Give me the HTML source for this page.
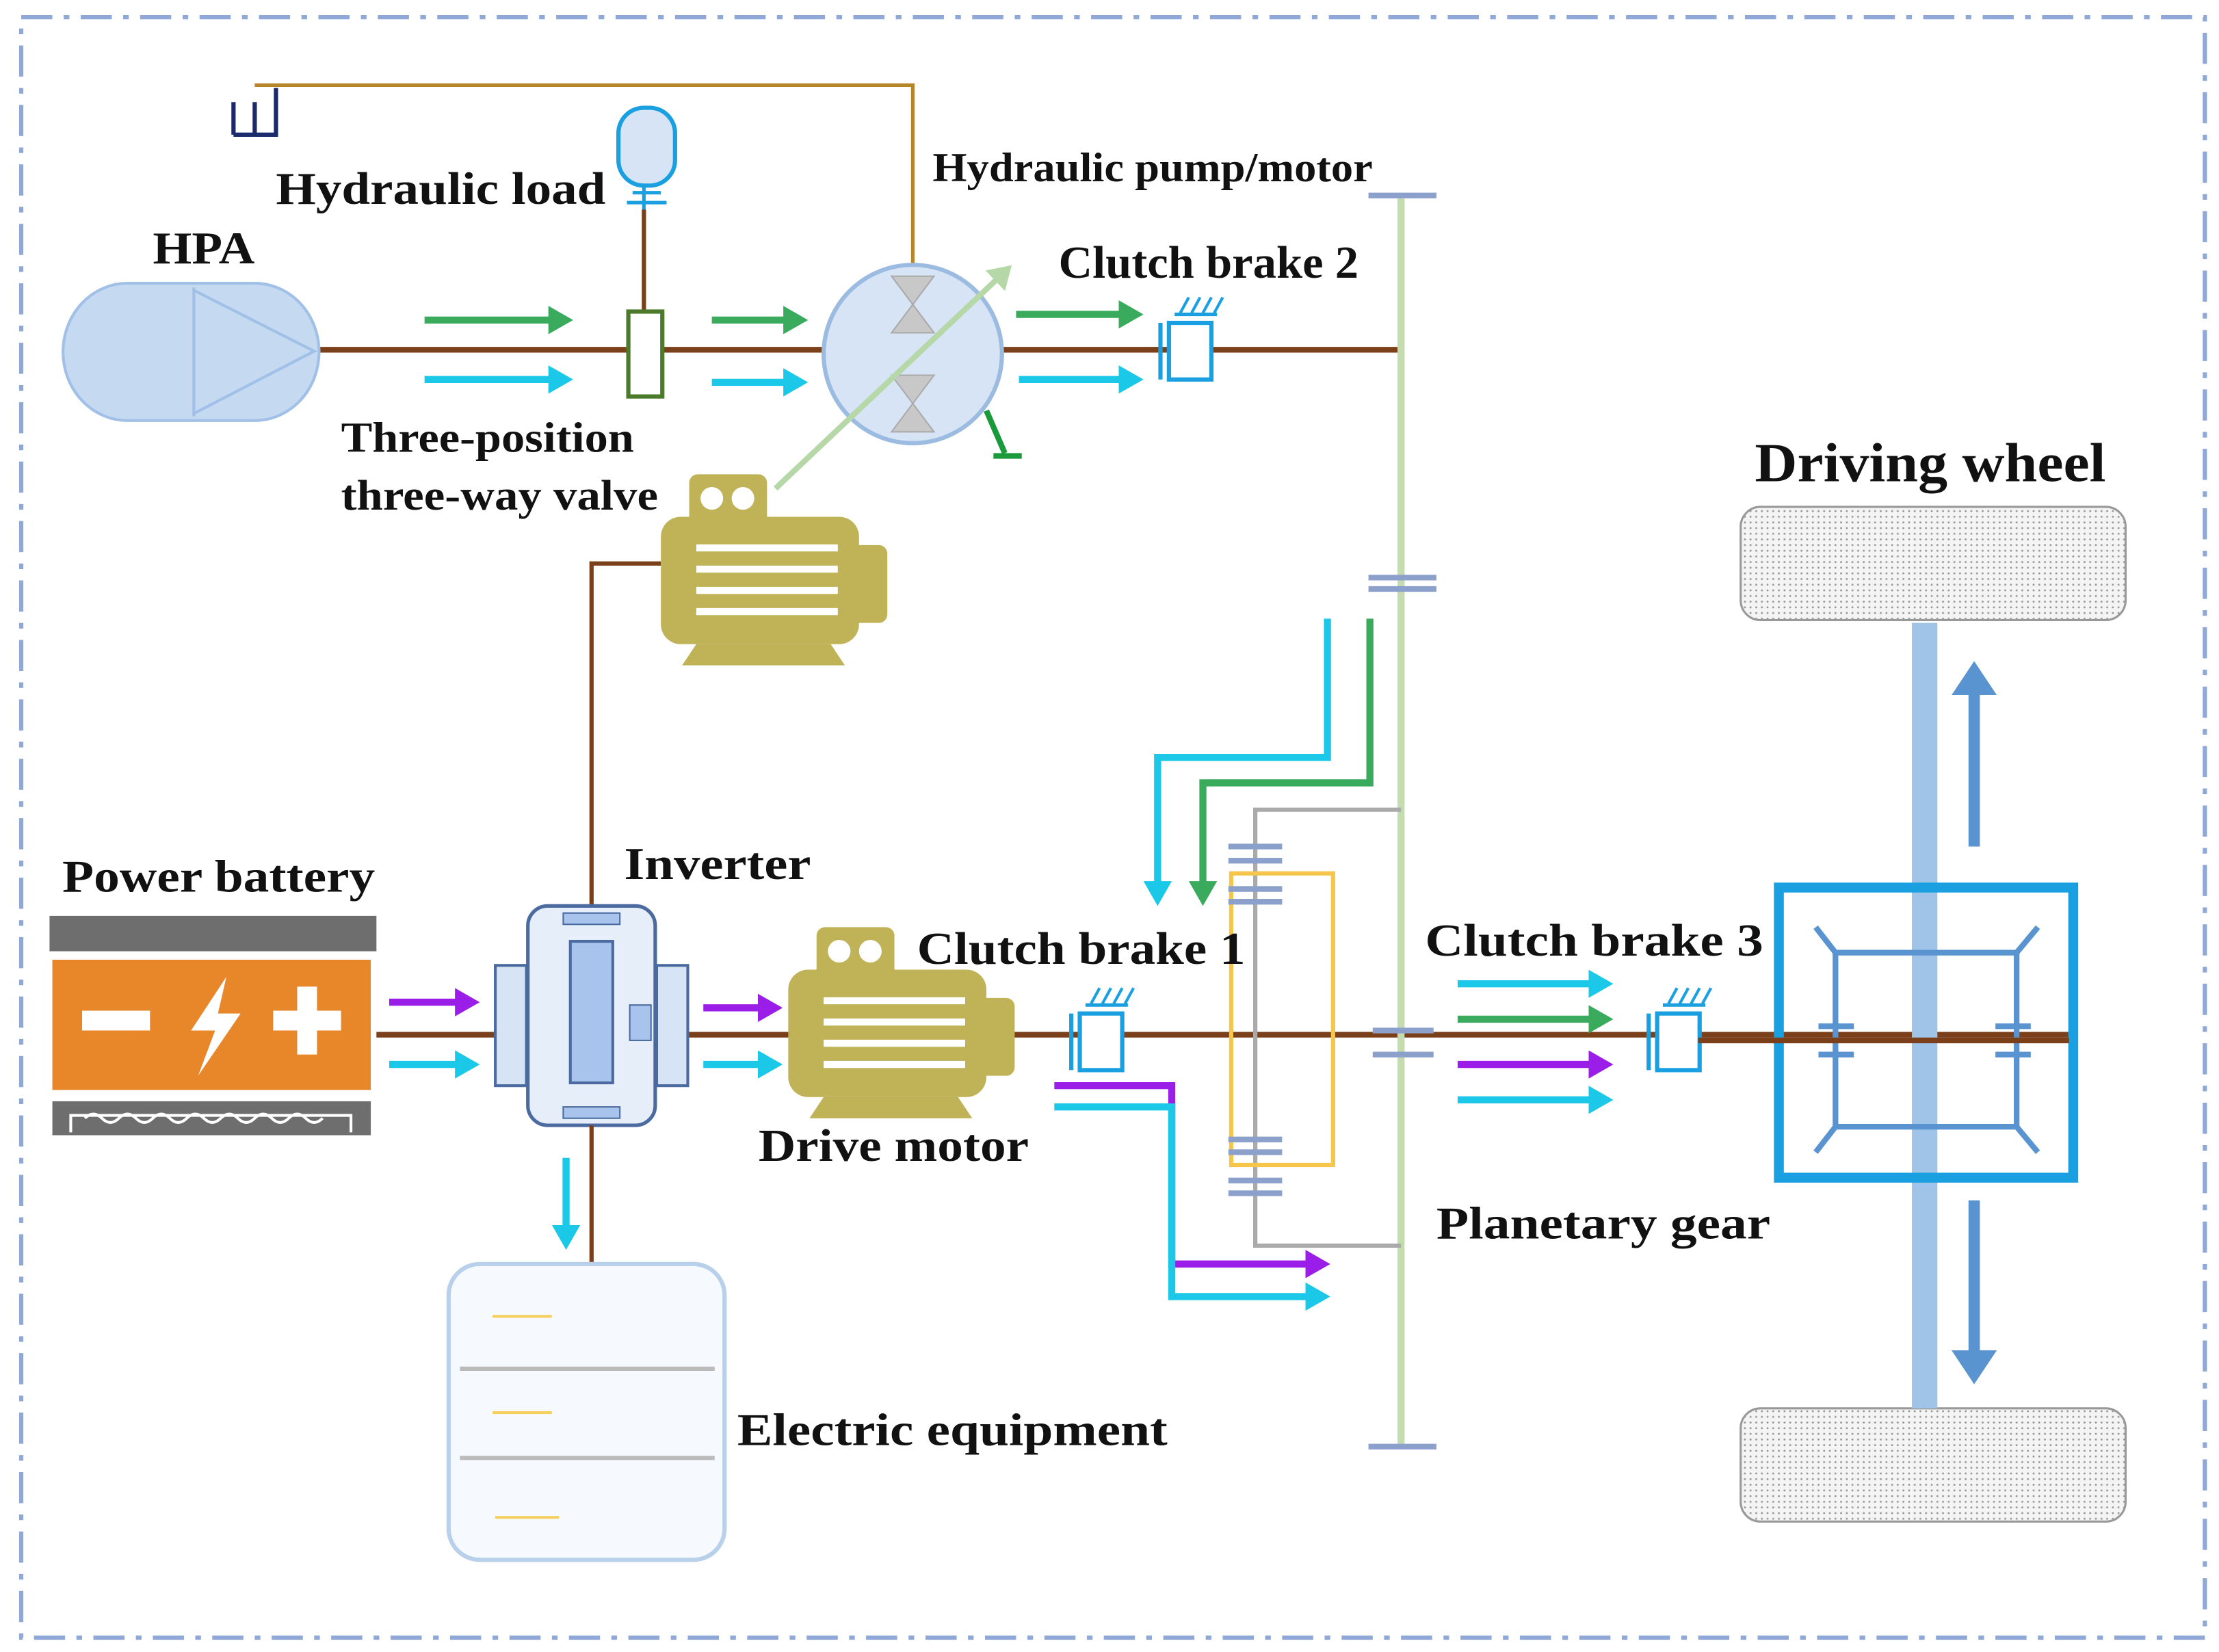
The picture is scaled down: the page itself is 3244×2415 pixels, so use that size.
<!DOCTYPE html>
<html><head><meta charset="utf-8"><style>
html,body{margin:0;padding:0;background:#fff}
svg{display:block}
text{font-family:"Liberation Serif",serif;font-weight:bold;fill:#111}
</style></head><body>
<svg width="3244" height="2415" viewBox="0 0 1568 1167" xmlns="http://www.w3.org/2000/svg">
<defs>
<marker id="ag" markerWidth="4" markerHeight="4" refX="2.5" refY="2" orient="auto" markerUnits="strokeWidth"><path d="M0,0L3.5,2L0,4z" fill="#3aaa5c"/></marker>
<marker id="ac" markerWidth="4" markerHeight="4" refX="2.5" refY="2" orient="auto" markerUnits="strokeWidth"><path d="M0,0L3.5,2L0,4z" fill="#1cc8e8"/></marker>
<marker id="ap" markerWidth="4" markerHeight="4" refX="2.5" refY="2" orient="auto" markerUnits="strokeWidth"><path d="M0,0L3.5,2L0,4z" fill="#9a1ee8"/></marker>
<marker id="al" markerWidth="5" markerHeight="5" refX="3" refY="2.5" orient="auto" markerUnits="strokeWidth"><path d="M0,0L4,2.5L0,5z" fill="#b6d8a8"/></marker>
<marker id="ab" markerWidth="4" markerHeight="4" refX="2" refY="2" orient="auto" markerUnits="strokeWidth"><path d="M0,0L3,2L0,4z" fill="#5a94d0"/></marker>
<pattern id="dots" width="4" height="4" patternUnits="userSpaceOnUse"><rect width="4" height="4" fill="#f4f4f4"/><circle cx="1" cy="1" r="0.7" fill="#999"/></pattern>
<g id="motor">
<rect x="0" y="30" width="140" height="90" rx="14" fill="#bfb257"/>
<rect x="130" y="50" width="30" height="55" rx="6" fill="#bfb257"/>
<rect x="20" y="0" width="55" height="36" rx="6" fill="#bfb257"/>
<circle cx="36" cy="17" r="8" fill="#fff"/><circle cx="58" cy="17" r="8" fill="#fff"/>
<path d="M25,120L15,135H130L120,120z" fill="#bfb257"/>
<g stroke="#fff" stroke-width="5"><line x1="25" y1="52" x2="125" y2="52"/><line x1="25" y1="67" x2="125" y2="67"/><line x1="25" y1="82" x2="125" y2="82"/><line x1="25" y1="97" x2="125" y2="97"/></g>
</g>
<g id="clutch">
<rect x="6" y="6" width="30" height="40" fill="#fff" stroke="#1aa0e0" stroke-width="3"/>
<line x1="0" y1="6" x2="0" y2="46" stroke="#1aa0e0" stroke-width="3"/>
<line x1="10" y1="0" x2="40" y2="0" stroke="#1aa0e0" stroke-width="2.5"/>
<g stroke="#1aa0e0" stroke-width="2"><line x1="14" y1="-1" x2="20" y2="-12"/><line x1="22" y1="-1" x2="28" y2="-12"/><line x1="30" y1="-1" x2="36" y2="-12"/><line x1="38" y1="-1" x2="44" y2="-12"/></g>
</g>
</defs>
<rect x="15" y="12" width="1543" height="1145" fill="none" stroke="#8fa8d8" stroke-width="3" stroke-dasharray="22,8,4,8"/>

<polyline points="180,60 645,60 645,195" fill="none" stroke="#b8862a" stroke-width="2.5"/>
<path d="M165,95V72M165,95H195V62M180,95V72" fill="none" stroke="#1a2a6a" stroke-width="3"/>

<rect x="437" y="76" width="40" height="55" rx="18" fill="#d6e4f5" stroke="#1aa0e0" stroke-width="3"/>
<g stroke="#1aa0e0" stroke-width="2.5"><line x1="447" y1="136" x2="467" y2="136"/><line x1="443" y1="143" x2="471" y2="143"/><line x1="455" y1="131" x2="455" y2="148"/></g>
<line x1="455" y1="148" x2="455" y2="220" stroke="#7b3f1a" stroke-width="3"/>

<line x1="225" y1="247" x2="990" y2="247" stroke="#7b3f1a" stroke-width="4"/>
<line x1="266" y1="731" x2="1462" y2="731" stroke="#7b3f1a" stroke-width="4"/>

<path d="M90,200H180A45,48 0 0 1 180,297H90A45,48 0 0 1 90,200z" fill="#c5d9f0" stroke="#a0c0e8" stroke-width="2"/>
<line x1="137" y1="203" x2="137" y2="294" stroke="#a0c0e8" stroke-width="2"/>
<path d="M137,205L222,248L137,292z" fill="#c5d9f0" stroke="#a0c0e8" stroke-width="2"/>

<rect x="444" y="220" width="24" height="60" fill="#fff" stroke="#4a7a2a" stroke-width="3"/>

<g stroke-width="5" fill="none">
<line x1="300" y1="226" x2="400" y2="226" stroke="#3aaa5c" marker-end="url(#ag)"/>
<line x1="300" y1="268" x2="400" y2="268" stroke="#1cc8e8" marker-end="url(#ac)"/>
<line x1="503" y1="226" x2="566" y2="226" stroke="#3aaa5c" marker-end="url(#ag)"/>
<line x1="503" y1="270" x2="566" y2="270" stroke="#1cc8e8" marker-end="url(#ac)"/>
<line x1="718" y1="222" x2="803" y2="222" stroke="#3aaa5c" marker-end="url(#ag)"/>
<line x1="720" y1="268" x2="803" y2="268" stroke="#1cc8e8" marker-end="url(#ac)"/>
</g>

<circle cx="645" cy="250" r="63" fill="#d6e4f5" stroke="#9bbbe0" stroke-width="3"/>
<g fill="#c8c8c8" stroke="#aaa"><path d="M630,195H660L645,215z"/><path d="M630,235H660L645,215z"/><path d="M630,265H660L645,285z"/><path d="M630,305H660L645,285z"/></g>
<line x1="548" y1="345" x2="712" y2="190" stroke="#b6d8a8" stroke-width="4" marker-end="url(#al)"/>
<path d="M697,290L710,320M702,322H722" stroke="#1a9a3a" stroke-width="4" fill="none"/>
<use href="#clutch" x="820" y="222"/>

<line x1="990" y1="138" x2="990" y2="1022" stroke="#c5dcb0" stroke-width="5"/>
<g stroke="#8ca0cc" stroke-width="4"><line x1="967" y1="138" x2="1015" y2="138"/><line x1="967" y1="408" x2="1015" y2="408"/><line x1="967" y1="416" x2="1015" y2="416"/><line x1="970" y1="728" x2="1013" y2="728"/><line x1="970" y1="745" x2="1013" y2="745"/><line x1="967" y1="1022" x2="1015" y2="1022"/></g>

<polyline points="467,398 418,398 418,640" fill="none" stroke="#7b3f1a" stroke-width="3"/>
<use href="#motor" x="467" y="335"/>

<rect x="35" y="647" width="231" height="25" fill="#6e6e6e"/>
<rect x="37" y="678" width="225" height="92" fill="#e8862a"/>
<rect x="58" y="714" width="48" height="14" fill="#fff"/>
<rect x="193" y="714" width="48" height="14" fill="#fff"/><rect x="210" y="697" width="14" height="48" fill="#fff"/>
<path d="M160,690L135,728H152L140,760L170,716H154z" fill="#fff"/>
<rect x="37" y="778" width="225" height="24" fill="#6e6e6e"/>
<path d="M50,800V788H248V800" fill="none" stroke="#fff" stroke-width="2"/>
<path d="M60,790q6,-6 12,0t12,0t12,0t12,0t12,0t12,0t12,0t12,0t12,0t12,0t12,0t12,0t12,0t12,0" fill="none" stroke="#fff" stroke-width="2"/>

<g stroke-width="5" fill="none">
<line x1="275" y1="708" x2="334" y2="708" stroke="#9a1ee8" marker-end="url(#ap)"/>
<line x1="275" y1="752" x2="334" y2="752" stroke="#1cc8e8" marker-end="url(#ac)"/>
<line x1="497" y1="712" x2="548" y2="712" stroke="#9a1ee8" marker-end="url(#ap)"/>
<line x1="497" y1="752" x2="548" y2="752" stroke="#1cc8e8" marker-end="url(#ac)"/>
<line x1="400" y1="818" x2="400" y2="878" stroke="#1cc8e8" marker-end="url(#ac)"/>
</g>

<rect x="350" y="682" width="22" height="85" fill="#d6e4f5" stroke="#4a6aa0" stroke-width="2"/>
<rect x="464" y="682" width="22" height="85" fill="#d6e4f5" stroke="#4a6aa0" stroke-width="2"/>
<rect x="373" y="640" width="90" height="155" rx="14" fill="#e6eefa" stroke="#4a6aa0" stroke-width="2.5"/>
<rect x="403" y="665" width="30" height="100" fill="#a8c4ec" stroke="#4a6aa0" stroke-width="2"/>
<rect x="398" y="645" width="40" height="8" fill="#a8c4ec" stroke="#4a6aa0"/>
<rect x="398" y="782" width="40" height="8" fill="#a8c4ec" stroke="#4a6aa0"/>
<rect x="445" y="710" width="15" height="25" fill="#a8c4ec" stroke="#4a6aa0"/>
<line x1="418" y1="795" x2="418" y2="893" stroke="#7b3f1a" stroke-width="3"/>

<use href="#motor" x="557" y="655"/>
<use href="#clutch" x="757" y="710"/>

<polyline points="990,572 887,572 887,880 990,880" fill="none" stroke="#aaa" stroke-width="3"/>
<rect x="870" y="617" width="72" height="206" fill="none" stroke="#f5c64a" stroke-width="3"/>
<g stroke="#8ca0cc" stroke-width="4"><line x1="868" y1="598" x2="906" y2="598"/><line x1="868" y1="608" x2="906" y2="608"/><line x1="868" y1="628" x2="906" y2="628"/><line x1="868" y1="637" x2="906" y2="637"/><line x1="868" y1="805" x2="906" y2="805"/><line x1="868" y1="814" x2="906" y2="814"/><line x1="868" y1="834" x2="906" y2="834"/><line x1="868" y1="843" x2="906" y2="843"/></g>

<g stroke-width="5" fill="none">
<polyline points="938,437 938,535 818,535 818,635" stroke="#1cc8e8" marker-end="url(#ac)"/>
<polyline points="968,437 968,553 850,553 850,635" stroke="#3aaa5c" marker-end="url(#ag)"/>
<polyline points="745,767 828,767 828,893 935,893" stroke="#9a1ee8" marker-end="url(#ap)"/>
<polyline points="745,782 828,782 828,916 935,916" stroke="#1cc8e8" marker-end="url(#ac)"/>
<line x1="1030" y1="695" x2="1135" y2="695" stroke="#1cc8e8" marker-end="url(#ac)"/>
<line x1="1030" y1="720" x2="1135" y2="720" stroke="#3aaa5c" marker-end="url(#ag)"/>
<line x1="1030" y1="752" x2="1135" y2="752" stroke="#9a1ee8" marker-end="url(#ap)"/>
<line x1="1030" y1="777" x2="1135" y2="777" stroke="#1cc8e8" marker-end="url(#ac)"/>
</g>
<use href="#clutch" x="1165" y="710"/>

<rect x="1230" y="358" width="272" height="80" rx="14" fill="url(#dots)" stroke="#999" stroke-width="1.5"/>
<rect x="1230" y="995" width="272" height="80" rx="14" fill="url(#dots)" stroke="#999" stroke-width="1.5"/>
<line x1="1360" y1="440" x2="1360" y2="995" stroke="#a0c4e8" stroke-width="18"/>
<line x1="1395" y1="598" x2="1395" y2="475" stroke="#5a94d0" stroke-width="8" marker-end="url(#ab)"/>
<line x1="1395" y1="848" x2="1395" y2="970" stroke="#5a94d0" stroke-width="8" marker-end="url(#ab)"/>
<rect x="1257" y="627" width="208" height="205" fill="none" stroke="#1aa0e0" stroke-width="7"/>
<g stroke="#5a94d0" stroke-width="4" fill="none">
<rect x="1297" y="673" width="128" height="123"/>
<line x1="1297" y1="673" x2="1283" y2="655"/><line x1="1425" y1="673" x2="1440" y2="655"/>
<line x1="1297" y1="796" x2="1283" y2="814"/><line x1="1425" y1="796" x2="1440" y2="814"/>
<line x1="1285" y1="725" x2="1310" y2="725"/><line x1="1285" y1="745" x2="1310" y2="745"/>
<line x1="1410" y1="725" x2="1435" y2="725"/><line x1="1410" y1="745" x2="1435" y2="745"/>
</g>
<line x1="1200" y1="735" x2="1462" y2="735" stroke="#7b3f1a" stroke-width="4"/>

<rect x="317" y="893" width="195" height="209" rx="22" fill="#f6f9fd" stroke="#b8d0ea" stroke-width="3"/>
<line x1="325" y1="967" x2="505" y2="967" stroke="#bbb" stroke-width="3"/>
<line x1="325" y1="1030" x2="505" y2="1030" stroke="#bbb" stroke-width="3"/>
<g stroke="#f5d060" stroke-width="2"><line x1="348" y1="930" x2="390" y2="930"/><line x1="348" y1="998" x2="390" y2="998"/><line x1="350" y1="1072" x2="395" y2="1072"/></g>

<g lengthAdjust="spacingAndGlyphs">
<text x="195" y="144" font-size="32" textLength="233" lengthAdjust="spacingAndGlyphs">Hydraulic load</text>
<text x="108" y="186" font-size="32" textLength="72" lengthAdjust="spacingAndGlyphs">HPA</text>
<text x="659" y="128" font-size="29" textLength="311" lengthAdjust="spacingAndGlyphs">Hydraulic pump/motor</text>
<text x="748" y="196" font-size="32" textLength="212" lengthAdjust="spacingAndGlyphs">Clutch brake 2</text>
<text x="241" y="319" font-size="30" textLength="207" lengthAdjust="spacingAndGlyphs">Three-position</text>
<text x="241" y="360" font-size="30" textLength="224" lengthAdjust="spacingAndGlyphs">three-way valve</text>
<text x="1240" y="340" font-size="39" textLength="248" lengthAdjust="spacingAndGlyphs">Driving wheel</text>
<text x="44" y="630" font-size="32" textLength="221" lengthAdjust="spacingAndGlyphs">Power battery</text>
<text x="441" y="621" font-size="32" textLength="132" lengthAdjust="spacingAndGlyphs">Inverter</text>
<text x="648" y="681" font-size="32" textLength="232" lengthAdjust="spacingAndGlyphs">Clutch brake 1</text>
<text x="1007" y="675" font-size="32" textLength="239" lengthAdjust="spacingAndGlyphs">Clutch brake 3</text>
<text x="536" y="820" font-size="32" textLength="191" lengthAdjust="spacingAndGlyphs">Drive motor</text>
<text x="1015" y="875" font-size="32" textLength="236" lengthAdjust="spacingAndGlyphs">Planetary gear</text>
<text x="521" y="1021" font-size="32" textLength="304" lengthAdjust="spacingAndGlyphs">Electric equipment</text>
</g>
</svg>
</body></html>
